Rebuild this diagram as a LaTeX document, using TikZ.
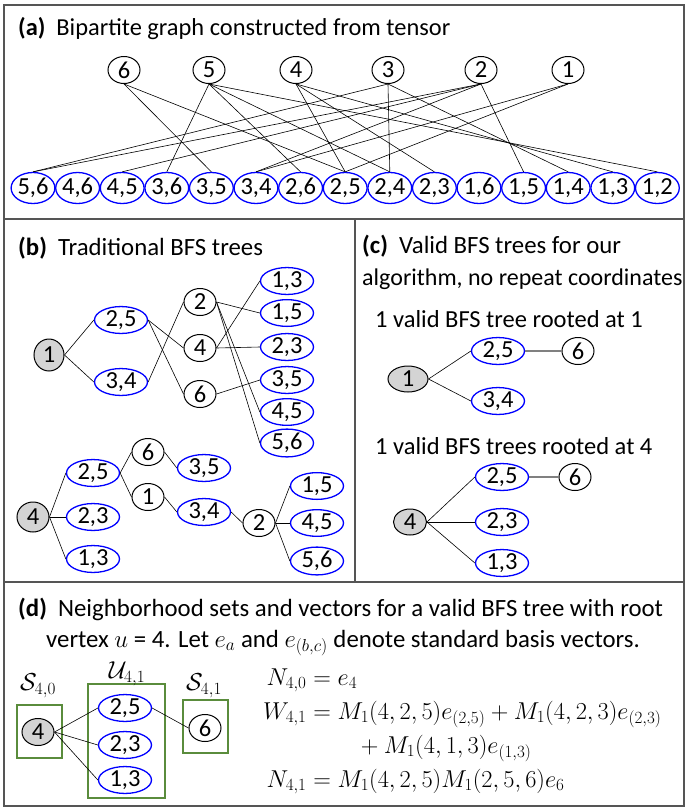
\RequirePackage{fix-cm}
\documentclass[tikz,border=0pt]{standalone}
\usepackage{amsmath}
\usepackage[no-math]{fontspec}
\setmainfont{Carlito}
\usetikzlibrary{shapes.geometric}
\definecolor{setgreen}{RGB}{90,140,60}
\definecolor{framegray}{RGB}{85,85,85}
\newcommand{\nodefont}{\fontsize{24.5}{28}\selectfont}
\newcommand{\titlefont}{\fontsize{24.8}{29}\selectfont}
\newcommand{\lbl}[1]{\textbf{(#1)}\hspace{0.45em}}
\tikzset{
  vtx/.style={
    ellipse,
    draw=black,
    line width=1pt,
    inner sep=0pt,
    minimum width=#1,
    minimum height=27pt,
    font=\nodefont
  },
  vtx/.default=32pt,
  root/.style={vtx=#1, fill=black!17},
  root/.default=32pt,
  pair/.style={
    ellipse,
    draw=blue,
    line width=1.3pt,
    inner sep=0pt,
    minimum width=#1,
    minimum height=24pt,
    font=\nodefont
  },
  pair/.default=53pt,
  edge/.style={draw, line width=0.6pt},
  title/.style={anchor=base west, inner sep=0pt, font=\titlefont},
  setbox/.style={draw=setgreen, line width=1.4pt, inner sep=0pt}
}

\begin{document}
\begin{tikzpicture}[x=1pt,y=-1pt]
\useasboundingbox (0,0) rectangle (691,812);
\draw[framegray, line width=1.4pt] (4,5) rectangle (684,806);
\draw[framegray, line width=1.4pt] (4,219) -- (684,219) (355,219) -- (355,582) (4,582) -- (684,582);

% (a)
\node[title, font=\fontsize{24.4}{29}\selectfont] (ta) at (18,35) {\lbl{a}Bipartite graph constructed from tensor};
\foreach \v/\x in {6/124,5/209,4/296,3/388,2/481,1/568}
  \node[vtx] (t\v) at (\x,70) {\v};
\foreach \a/\b [count=\i from 0] in {5/6,4/6,4/5,3/6,3/5,3/4,2/6,2/5,2/4,2/3,1/6,1/5,1/4,1/3,1/2}
  \node[pair=41pt, minimum height=31pt] (b\a\b) at ({33+44.6*\i},188) {\a,\b};
\foreach \v/\p in {1/25,1/34,2/15,2/34,2/45,2/56,3/14,3/24,3/56,4/13,4/23,4/25,5/12,5/24,5/26,5/36,6/25,6/35}
  \draw[edge] (t\v.south) -- (b\p.north);

% (b)
\node[title] (tb) at (18,255) {\lbl{b}Traditional BFS trees};
\node[root=30pt, minimum height=32pt] (p1) at (49,355) {1};
\node[pair] (p25) at (121,320) {2,5};
\node[pair] (p34) at (121,382) {3,4};
\node[vtx] (p2) at (200,302) {2};
\node[vtx] (p4) at (200,348) {4};
\node[vtx] (p6) at (200,394) {6};
\foreach \a/\b/\y in {1/3/281,1/5/313,2/3/347,3/5/380,4/5/412,5/6/443}
  \node[pair] (p\a\b) at (287,\y) {\a,\b};
\foreach \u/\w in {1/25,1/34,25/4,25/6,34/2,2/15,2/45,2/56,4/13,4/23,6/35}
  \draw[edge] (p\u.east) -- (p\w.west);

\node[root=32pt, minimum height=30pt] (q4) at (33,517) {4};
\node[pair] (q25) at (93,473) {2,5};
\node[pair] (q23) at (93,517) {2,3};
\node[pair] (q13) at (93,559) {1,3};
\node[vtx] (q6) at (148,452) {6};
\node[vtx] (q1) at (148,497) {1};
\node[pair] (q35) at (204,468) {3,5};
\node[pair] (q34) at (204,512) {3,4};
\node[vtx] (q2) at (259,523) {2};
\node[pair] (q15) at (317,486) {1,5};
\node[pair] (q45) at (317,523) {4,5};
\node[pair] (q56) at (317,561) {5,6};
\foreach \u/\w in {4/25,4/23,4/13,25/6,25/1,6/35,1/34,34/2,2/15,2/45,2/56}
  \draw[edge] (q\u.east) -- (q\w.west);

% (c)
\node[title] (tc1) at (362,253) {\lbl{c}Valid BFS trees for our};
\node[title, font=\fontsize{24}{29}\selectfont] (tc2) at (362,285) {algorithm, no repeat coordinates};
\node[title, font=\nodefont] (sc1) at (375,327) {1 valid BFS tree rooted at 1};
\node[root=40pt, minimum height=26pt] (r1) at (408,379) {1};
\node[pair] (r25) at (498,351) {2,5};
\node[pair] (r34) at (498,401) {3,4};
\node[vtx] (r6) at (578,351) {6};
\draw[edge] (r1.east) -- (r25.west);
\draw[edge] (r1.east) -- (r34.west);
\draw[edge, draw=black!50, line width=1.2pt] (r25) -- (r6);

\node[title, font=\nodefont] (sc2) at (375,454) {1 valid BFS trees rooted at 4};
\node[root=33pt, minimum height=26pt] (s4) at (410,522) {4};
\node[pair] (s25) at (502,477) {2,5};
\node[pair] (s23) at (502,522) {2,3};
\node[pair] (s13) at (502,563) {1,3};
\node[vtx] (s6) at (575,477) {6};
\foreach \w in {25,23,13}
  \draw[edge] (s4.east) -- (s\w.west);
\draw[edge, draw=black!50, line width=1.2pt] (s25) -- (s6);

% (d)
\node[title] (td1) at (18,616) {\lbl{d}Neighborhood sets and vectors for a valid BFS tree with root};
\node[title] (td2) at (46,647) {vertex $u$ = 4. Let $e_a$ and $e_{(b,c)}$ denote standard basis vectors.};

\node[setbox, minimum width=45pt, minimum height=53pt] (S40) at (39.5,731.5) {};
\node[setbox, minimum width=77pt, minimum height=114pt] (U41) at (126.5,741) {};
\node[setbox, minimum width=45pt, minimum height=53pt] (S41) at (205.5,726.5) {};
\node[font=\nodefont, inner sep=0pt] (lS40) at (38,686) {$\mathcal{S}_{4,0}$};
\node[font=\nodefont, inner sep=0pt] (lU41) at (127,674) {$\mathcal{U}_{4,1}$};
\node[font=\nodefont, inner sep=0pt] (lS41) at (204,686) {$\mathcal{S}_{4,1}$};
\node[root] (u4) at (38,732) {4};
\node[pair] (u25) at (125,708) {2,5};
\node[pair] (u23) at (125,745) {2,3};
\node[pair] (u13) at (125,780) {1,3};
\node[vtx] (u6) at (205,728) {6};
\foreach \w in {25,23,13}
  \draw[edge] (u4.east) -- (u\w.west);
\draw[edge] (u25.east) -- (u6.west);

\node[anchor=base west, inner sep=0pt, font=\fontsize{24.4}{31}\selectfont] (eqs) at (263,685) {$\begin{aligned}[t]
  N_{4,0} &= e_4\\
  W_{4,1} &= M_1(4,2,5)e_{(2,5)} + M_1(4,2,3)e_{(2,3)}\\
          &\qquad + M_1(4,1,3)e_{(1,3)}\\
  N_{4,1} &= M_1(4,2,5)M_1(2,5,6)e_6
\end{aligned}$};
\end{tikzpicture}
\end{document}
